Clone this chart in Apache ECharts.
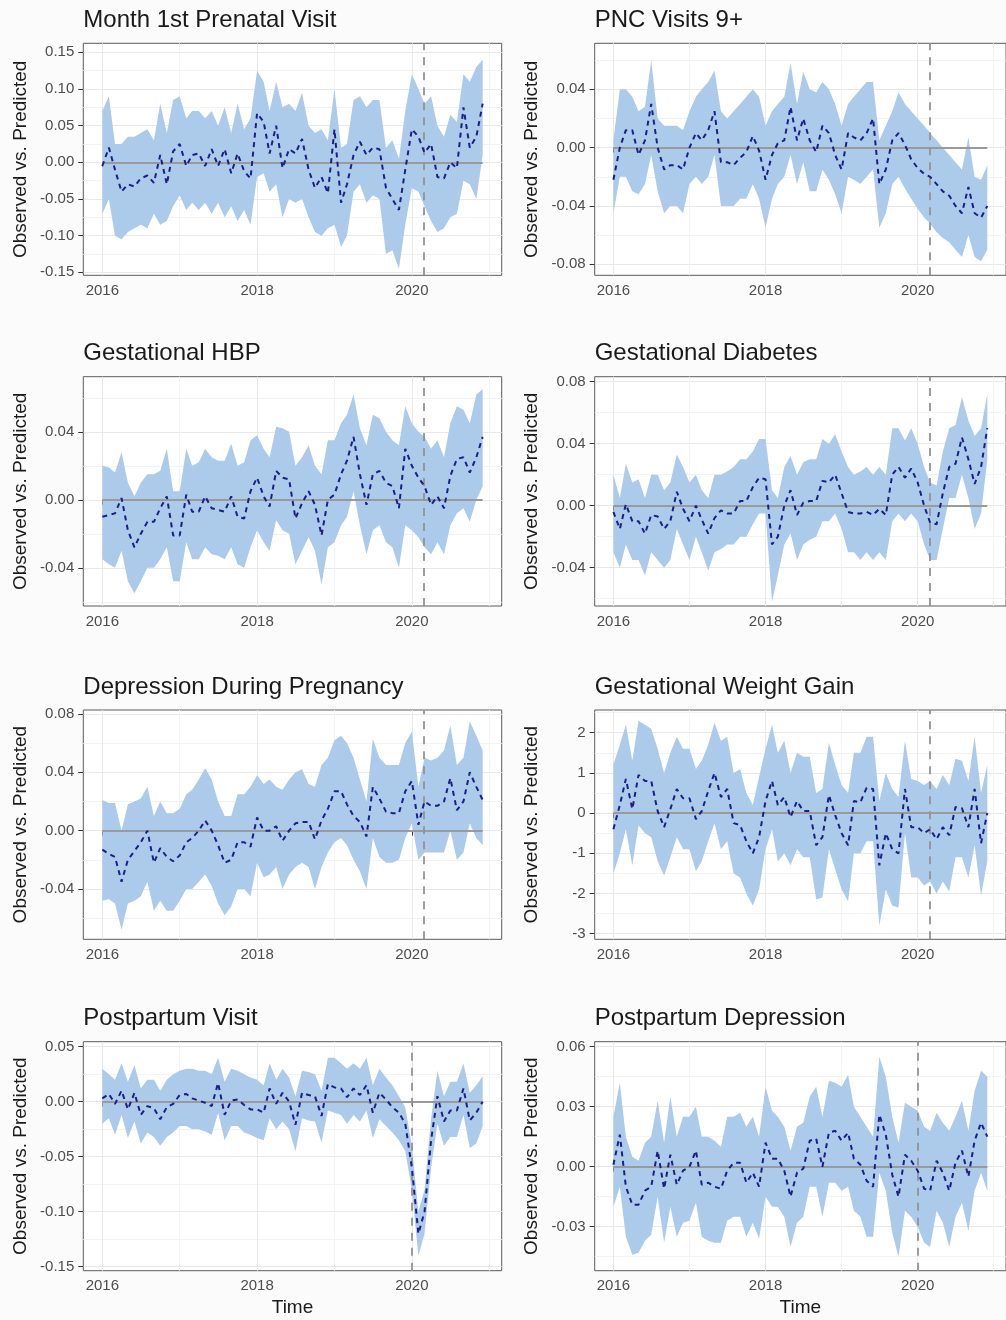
<!DOCTYPE html>
<html>
<head>
<meta charset="utf-8">
<title>Observed vs. Predicted</title>
<script src="https://cdn.jsdelivr.net/npm/echarts@6/dist/echarts.min.js"></script>
<style>
  html, body { margin: 0; padding: 0; background: #fbfbfb; }
  #chart { width: 1006px; height: 1320px; }
</style>
</head>
<body>
<div id="chart"></div>
<script>
// Monthly series, January 2016 through December 2020
const months = [];
for (let y = 2016; y <= 2020; y++) {
  for (let m = 1; m <= 12; m++) months.push(y + '-' + String(m).padStart(2, '0'));
}

// Year ticks on the time axis
const yearTicks = [2016, 2018, 2020];

// ---- Month 1st Prenatal Visit ----
const prenatalMid = [-0.005, 0.02, -0.01, -0.04, -0.03, -0.033, -0.022, -0.018, -0.028, 0.01,
  -0.03, 0.015, 0.025, -0.005, 0.01, 0.012, -0.005, 0.018, -0.005, 0.018,
  -0.015, 0.012, -0.012, -0.022, 0.067, 0.055, 0.012, 0.05, -0.008, 0.018,
  0.012, 0.032, -0.01, -0.035, -0.02, -0.042, 0.045, -0.055, -0.03, 0.01,
  0.028, 0.01, 0.02, 0.018, -0.035, -0.05, -0.065, -0.01, 0.045, 0.035,
  0.013, 0.025, -0.02, -0.022, 0.0, -0.008, 0.075, 0.02, 0.035, 0.08];
const prenatalHi = [0.07, 0.09, 0.025, 0.025, 0.035, 0.035, 0.04, 0.045, 0.03, 0.08,
  0.04, 0.085, 0.09, 0.06, 0.07, 0.07, 0.06, 0.07, 0.05, 0.075,
  0.04, 0.08, 0.045, 0.06, 0.125, 0.11, 0.07, 0.11, 0.075, 0.08,
  0.07, 0.095, 0.05, 0.04, 0.045, 0.03, 0.1, 0.02, 0.025, 0.085,
  0.09, 0.075, 0.085, 0.085, 0.02, 0.03, 0.005, 0.07, 0.12, 0.1,
  0.08, 0.09, 0.05, 0.035, 0.065, 0.055, 0.12, 0.11, 0.13, 0.14];
const prenatalLo = [-0.07, -0.05, -0.1, -0.105, -0.095, -0.09, -0.085, -0.09, -0.07, -0.085,
  -0.08, -0.06, -0.045, -0.065, -0.055, -0.065, -0.055, -0.07, -0.055, -0.075,
  -0.06, -0.08, -0.065, -0.085, -0.02, -0.015, -0.04, -0.03, -0.075, -0.05,
  -0.055, -0.05, -0.075, -0.095, -0.1, -0.09, -0.085, -0.115, -0.1, -0.04,
  -0.03, -0.055, -0.045, -0.05, -0.125, -0.12, -0.145, -0.085, -0.035, -0.04,
  -0.06, -0.08, -0.095, -0.09, -0.075, -0.07, -0.025, -0.03, -0.05, 0.01];
const prenatalTicks = [-0.15, -0.10, -0.05, 0, 0.05, 0.10, 0.15];

// ---- PNC Visits 9+ ----
const pncMid = [-0.022, 0.0, 0.012, 0.012, -0.005, 0.005, 0.03, 0.0, -0.015, -0.012,
  -0.012, -0.015, 0.0, 0.01, 0.005, 0.012, 0.025, -0.01, -0.01, -0.012,
  -0.007, -0.003, 0.008, -0.002, -0.022, -0.005, 0.003, 0.005, 0.028, 0.005,
  0.02, 0.005, -0.003, 0.015, 0.01, -0.005, -0.015, 0.01, 0.007, 0.005,
  0.01, 0.02, -0.025, -0.015, 0.005, 0.01, 0.002, -0.008, -0.014, -0.018,
  -0.02, -0.025, -0.03, -0.033, -0.04, -0.045, -0.027, -0.045, -0.048, -0.04];
const pncHi = [0.005, 0.04, 0.04, 0.035, 0.025, 0.028, 0.06, 0.02, 0.015, 0.015,
  0.015, 0.012, 0.025, 0.035, 0.04, 0.045, 0.053, 0.025, 0.02, 0.025,
  0.03, 0.035, 0.04, 0.035, 0.015, 0.025, 0.03, 0.035, 0.058, 0.03,
  0.052, 0.04, 0.038, 0.045, 0.04, 0.03, 0.015, 0.03, 0.035, 0.04,
  0.045, 0.045, 0.005, 0.015, 0.025, 0.038, 0.03, 0.025, 0.02, 0.015,
  0.01, 0.005, 0.0, -0.005, -0.01, -0.015, 0.007, -0.02, -0.022, -0.012];
const pncLo = [-0.045, -0.02, -0.02, -0.03, -0.032, -0.025, -0.005, -0.03, -0.045, -0.04,
  -0.04, -0.045, -0.025, -0.02, -0.025, -0.02, -0.005, -0.04, -0.04, -0.04,
  -0.035, -0.035, -0.025, -0.035, -0.055, -0.035, -0.025, -0.02, -0.005, -0.025,
  -0.01, -0.03, -0.03, -0.015, -0.022, -0.032, -0.045, -0.02, -0.022, -0.025,
  -0.02, -0.015, -0.055, -0.045, -0.025, -0.02, -0.028, -0.035, -0.042, -0.048,
  -0.052, -0.058, -0.062, -0.065, -0.07, -0.075, -0.06, -0.075, -0.078, -0.07];
const pncTicks = [-0.08, -0.04, 0, 0.04];

// ---- Gestational HBP ----
const hbpMid = [-0.01, -0.009, -0.008, 0.001, -0.018, -0.028, -0.02, -0.013, -0.013, -0.005,
  0.002, -0.021, -0.021, 0.003, -0.007, -0.007, 0.002, -0.005, -0.006, -0.007,
  0.002, -0.01, -0.011, 0.005, 0.013, 0.002, -0.004, 0.017, 0.013, 0.012,
  -0.011, -0.002, 0.005, -0.003, -0.021, 0.0, 0.003, 0.015, 0.023, 0.037,
  0.015, -0.003, 0.015, 0.017, 0.01, 0.008, -0.005, 0.03, 0.02, 0.013,
  0.008, -0.003, 0.002, -0.005, 0.014, 0.024, 0.025, 0.016, 0.025, 0.037];
const hbpHi = [0.02, 0.019, 0.016, 0.028, 0.01, 0.002, 0.01, 0.015, 0.015, 0.017,
  0.03, 0.005, 0.005, 0.03, 0.02, 0.022, 0.03, 0.025, 0.023, 0.023,
  0.033, 0.02, 0.022, 0.035, 0.038, 0.03, 0.025, 0.043, 0.042, 0.04,
  0.02, 0.025, 0.032, 0.02, 0.015, 0.035, 0.035, 0.045, 0.05, 0.062,
  0.042, 0.032, 0.05, 0.048, 0.04, 0.035, 0.032, 0.055, 0.045, 0.04,
  0.037, 0.03, 0.035, 0.025, 0.045, 0.055, 0.053, 0.045, 0.062, 0.065];
const hbpLo = [-0.035, -0.038, -0.04, -0.03, -0.048, -0.055, -0.048, -0.04, -0.04, -0.035,
  -0.028, -0.048, -0.048, -0.025, -0.035, -0.035, -0.028, -0.032, -0.033, -0.035,
  -0.028, -0.038, -0.04, -0.028, -0.018, -0.025, -0.03, -0.012, -0.018, -0.02,
  -0.038, -0.03, -0.022, -0.03, -0.05, -0.028, -0.025, -0.015, -0.01, 0.005,
  -0.015, -0.032, -0.018, -0.015, -0.025, -0.028, -0.04, -0.015, -0.018, -0.022,
  -0.028, -0.032, -0.025, -0.032, -0.015, -0.008, -0.005, -0.013, 0.0, 0.008];
const hbpTicks = [-0.04, 0, 0.04];

// ---- Gestational Diabetes ----
const diabMid = [-0.004, -0.015, 0.001, -0.01, -0.01, -0.018, -0.006, -0.007, -0.015, -0.01,
  0.009, -0.002, -0.01, 0.0, -0.009, -0.018, -0.008, -0.003, -0.005, -0.005,
  0.003, 0.003, 0.012, 0.018, 0.017, -0.025, -0.02, 0.0, 0.01, -0.006,
  0.002, 0.003, 0.003, 0.016, 0.015, 0.02, 0.008, -0.004, -0.005, -0.005,
  -0.004, -0.006, -0.002, -0.006, 0.02, 0.025, 0.018, 0.024, 0.015, 0.0,
  -0.011, -0.012, 0.008, 0.025, 0.027, 0.044, 0.03, 0.014, 0.025, 0.05];
const diabHi = [0.02, 0.005, 0.027, 0.015, 0.017, 0.005, 0.02, 0.02, 0.01, 0.015,
  0.033, 0.025, 0.015, 0.02, 0.01, 0.005, 0.02, 0.02, 0.022, 0.025,
  0.03, 0.03, 0.035, 0.043, 0.043, 0.01, 0.005, 0.025, 0.032, 0.02,
  0.028, 0.03, 0.03, 0.043, 0.04, 0.046, 0.035, 0.025, 0.02, 0.022,
  0.025, 0.02, 0.025, 0.02, 0.05, 0.05, 0.042, 0.05, 0.04, 0.025,
  0.015, 0.013, 0.035, 0.05, 0.052, 0.07, 0.055, 0.045, 0.05, 0.072];
const diabLo = [-0.03, -0.04, -0.025, -0.035, -0.035, -0.045, -0.03, -0.035, -0.04, -0.035,
  -0.015, -0.025, -0.035, -0.02, -0.03, -0.042, -0.03, -0.028, -0.025, -0.025,
  -0.02, -0.02, -0.012, -0.005, -0.005, -0.062, -0.045, -0.025, -0.018, -0.035,
  -0.025, -0.022, -0.02, -0.01, -0.01, -0.005, -0.015, -0.03, -0.03, -0.035,
  -0.03, -0.035, -0.03, -0.035, -0.01, -0.005, -0.01, -0.005, -0.01, -0.025,
  -0.035, -0.035, -0.015, 0.005, 0.005, 0.02, 0.005, -0.015, -0.005, 0.03];
const diabTicks = [-0.04, 0, 0.04, 0.08];

// ---- Depression During Pregnancy ----
const deprMid = [-0.013, -0.016, -0.018, -0.035, -0.02, -0.014, -0.008, 0.0, -0.022, -0.012,
  -0.018, -0.021, -0.017, -0.008, -0.005, 0.0, 0.007, 0.0, -0.01, -0.022,
  -0.02, -0.008, -0.008, -0.011, 0.009, 0.0, 0.0, 0.003, -0.007, 0.0,
  0.005, 0.006, 0.006, -0.006, 0.007, 0.015, 0.027, 0.027, 0.018, 0.01,
  0.006, -0.004, 0.03, 0.022, 0.013, 0.012, 0.012, 0.027, 0.034, 0.004,
  0.02, 0.017, 0.017, 0.02, 0.036, 0.014, 0.02, 0.04, 0.03, 0.021];
const deprHi = [0.021, 0.019, 0.019, 0.0, 0.018, 0.02, 0.022, 0.03, 0.01, 0.02,
  0.012, 0.012, 0.015, 0.025, 0.028, 0.035, 0.043, 0.035, 0.02, 0.01,
  0.01, 0.025, 0.025, 0.03, 0.038, 0.032, 0.035, 0.03, 0.028, 0.035,
  0.04, 0.042, 0.032, 0.03, 0.045, 0.05, 0.062, 0.065, 0.06, 0.05,
  0.035, 0.02, 0.063, 0.05, 0.045, 0.045, 0.045, 0.06, 0.068, 0.03,
  0.05, 0.048, 0.05, 0.055, 0.072, 0.045, 0.05, 0.075, 0.065, 0.055];
const deprLo = [-0.048, -0.047, -0.05, -0.068, -0.05, -0.048, -0.045, -0.035, -0.055, -0.048,
  -0.055, -0.055, -0.048, -0.04, -0.04, -0.035, -0.03, -0.038, -0.05, -0.058,
  -0.052, -0.04, -0.04, -0.045, -0.022, -0.032, -0.03, -0.025, -0.04, -0.03,
  -0.025, -0.022, -0.025, -0.04, -0.025, -0.015, -0.008, -0.005, -0.01, -0.02,
  -0.028, -0.04, -0.005, -0.018, -0.022, -0.022, -0.02, -0.005, 0.005, -0.02,
  -0.015, -0.015, -0.015, -0.015, 0.0, -0.02, -0.015, 0.005, -0.005, -0.01];
const deprTicks = [-0.04, 0, 0.04, 0.08];

// ---- Gestational Weight Gain ----
const gwgMid = [-0.4, 0.2, 0.85, 0.1, 0.95, 0.8, 0.8, 0.05, -0.35, 0.1,
  0.6, 0.37, 0.37, -0.15, 0.05, 0.55, 1.0, 0.4, 0.6, -0.25,
  -0.3, -0.7, -1.0, -0.6, 0.3, 0.8, 0.2, 0.4, -0.1, 0.3,
  0.05, 0.05, -0.8, -0.6, 0.45, -0.05, -0.5, -0.8, 0.3, 0.27,
  0.63, 0.6, -1.3, -0.5, -0.9, -1.0, 0.6, -0.35, -0.35, -0.5,
  -0.4, -0.65, -0.35, -0.55, 0.15, 0.12, -0.35, 0.6, -0.75, 0.0];
const gwgHi = [1.2, 1.7, 2.2, 1.3, 2.3, 2.2, 2.1, 1.6, 1.0, 1.5,
  1.9, 1.6, 1.6, 1.1, 1.3, 1.7, 2.25, 1.8, 1.9, 1.0,
  1.1, 0.5, 0.2, 0.9, 1.6, 2.2, 1.5, 1.8, 1.0, 1.5,
  1.4, 1.4, 0.5, 0.6, 1.75, 1.2, 0.7, 0.5, 1.5, 1.5,
  1.9, 1.9, 0.3, 1.0, 0.6, 0.4, 1.8, 0.85, 0.8, 0.7,
  0.8, 0.6, 0.95, 0.7, 1.35, 1.3, 0.8, 1.9, 0.5, 1.2];
const gwgLo = [-1.5, -1.0, -0.4, -1.3, -0.3, -0.5, -0.6, -1.2, -1.55, -1.1,
  -0.6, -0.9, -0.9, -1.45, -1.2, -0.7, -0.25, -0.9, -0.7, -1.5,
  -1.6, -2.0, -2.3, -1.9, -0.9, -0.4, -1.2, -1.0, -1.3, -0.9,
  -1.1, -1.1, -2.15, -2.1, -0.9, -1.4, -1.9, -2.2, -1.0, -1.0,
  -0.7, -0.7, -2.8, -1.9, -2.3, -2.35, -0.5, -1.6, -1.6, -1.8,
  -1.7, -2.0, -1.7, -1.95, -1.1, -1.1, -1.6, -0.8, -2.05, -1.2];
const gwgTicks = [-3, -2, -1, 0, 1, 2];

// ---- Postpartum Visit ----
const ppvMid = [0.003, 0.007, -0.002, 0.01, -0.007, 0.008, -0.012, -0.004, -0.006, -0.016,
  -0.005, -0.002, 0.006, 0.007, 0.003, 0.001, -0.001, -0.004, 0.017, -0.012,
  0.001, 0.002, -0.003, -0.007, -0.007, -0.01, 0.012, -0.002, 0.008, 0.0,
  -0.021, 0.008, 0.006, 0.005, -0.013, 0.016, 0.013, 0.012, 0.004, 0.012,
  0.006, 0.015, -0.01, 0.008, 0.002, -0.005, -0.01, -0.02, -0.06, -0.12,
  -0.1, -0.035, 0.005, -0.018, -0.008, -0.008, 0.012, -0.017, -0.01, 0.0];
const ppvHi = [0.03, 0.025, 0.02, 0.035, 0.018, 0.033, 0.012, 0.02, 0.02, 0.01,
  0.02, 0.025, 0.028, 0.03, 0.03, 0.028, 0.028, 0.025, 0.04, 0.018,
  0.03, 0.028, 0.025, 0.022, 0.02, 0.015, 0.035, 0.02, 0.03, 0.022,
  0.005, 0.028, 0.027, 0.025, 0.01, 0.04, 0.04, 0.035, 0.03, 0.035,
  0.03, 0.04, 0.015, 0.03, 0.022, 0.015, 0.005, -0.005, -0.04, -0.1,
  -0.08, -0.015, 0.028, 0.005, 0.018, 0.018, 0.035, 0.008, 0.015, 0.023];
const ppvLo = [-0.02, -0.015, -0.03, -0.012, -0.033, -0.018, -0.038, -0.028, -0.032, -0.04,
  -0.032, -0.028, -0.022, -0.022, -0.025, -0.025, -0.027, -0.03, -0.01, -0.035,
  -0.022, -0.022, -0.028, -0.03, -0.033, -0.035, -0.015, -0.025, -0.018, -0.025,
  -0.045, -0.015, -0.017, -0.018, -0.037, -0.008, -0.01, -0.012, -0.02, -0.012,
  -0.018, -0.008, -0.033, -0.016, -0.022, -0.028, -0.035, -0.045, -0.08, -0.14,
  -0.12, -0.06, -0.02, -0.04, -0.032, -0.032, -0.012, -0.042, -0.038, -0.022];
const ppvTicks = [-0.15, -0.10, -0.05, 0, 0.05];

// ---- Postpartum Depression ----
const ppdMid = [0.001, 0.016, -0.01, -0.019, -0.019, -0.012, -0.01, 0.008, -0.011, 0.006,
  -0.009, -0.002, 0.0, 0.008, -0.009, -0.008, -0.01, -0.011, -0.002, 0.002,
  0.002, -0.008, -0.003, -0.01, 0.012, 0.004, 0.004, -0.002, -0.015, -0.003,
  -0.001, 0.013, 0.014, 0.0, 0.017, 0.018, 0.013, 0.017, 0.004, 0.001,
  -0.007, -0.01, 0.026, 0.016, -0.004, -0.015, 0.006, 0.003, -0.002, -0.011,
  -0.012, 0.003, -0.003, -0.012, 0.002, 0.008, -0.005, 0.013, 0.022, 0.015];
const ppdHi = [0.025, 0.042, 0.015, 0.005, 0.003, 0.012, 0.015, 0.033, 0.012, 0.035,
  0.015, 0.025, 0.025, 0.03, 0.015, 0.015, 0.013, 0.01, 0.025, 0.025,
  0.027, 0.02, 0.025, 0.015, 0.04, 0.028, 0.025, 0.02, 0.008, 0.02,
  0.022, 0.035, 0.04, 0.025, 0.043, 0.042, 0.04, 0.046, 0.03, 0.025,
  0.02, 0.015, 0.055, 0.045, 0.025, 0.012, 0.032, 0.03, 0.028, 0.02,
  0.018, 0.027, 0.022, 0.018, 0.025, 0.033, 0.018, 0.038, 0.048, 0.045];
const ppdLo = [-0.02, -0.01, -0.035, -0.044, -0.043, -0.037, -0.034, -0.015, -0.038, -0.02,
  -0.035, -0.028, -0.027, -0.018, -0.035, -0.037, -0.038, -0.038, -0.027, -0.025,
  -0.025, -0.035, -0.028, -0.036, -0.015, -0.02, -0.02, -0.025, -0.04, -0.028,
  -0.025, -0.01, -0.01, -0.025, -0.008, -0.008, -0.012, -0.01, -0.022, -0.025,
  -0.035, -0.035, -0.003, -0.012, -0.033, -0.045, -0.022, -0.025, -0.03, -0.038,
  -0.04, -0.022, -0.028, -0.04, -0.025, -0.018, -0.032, -0.012, -0.003, -0.012];
const ppdTicks = [-0.03, 0, 0.03, 0.06];

// Panels in reading order (left to right, top to bottom)
const panels = [
  { title: 'Month 1st Prenatal Visit', mid: prenatalMid, hi: prenatalHi, lo: prenatalLo, ticks: prenatalTicks, range: [-0.1541, 0.1623], digits: 2, event: '2020-03' },
  { title: 'PNC Visits 9+', mid: pncMid, hi: pncHi, lo: pncLo, ticks: pncTicks, range: [-0.0876, 0.0716], digits: 2, event: '2020-03' },
  { title: 'Gestational HBP', mid: hbpMid, hi: hbpHi, lo: hbpLo, ticks: hbpTicks, range: [-0.0625, 0.0724], digits: 2, event: '2020-03' },
  { title: 'Gestational Diabetes', mid: diabMid, hi: diabHi, lo: diabLo, ticks: diabTicks, range: [-0.0647, 0.0832], digits: 2, event: '2020-03' },
  { title: 'Depression During Pregnancy', mid: deprMid, hi: deprHi, lo: deprLo, ticks: deprTicks, range: [-0.0745, 0.0827], digits: 2, event: '2020-03' },
  { title: 'Gestational Weight Gain', mid: gwgMid, hi: gwgHi, lo: gwgLo, ticks: gwgTicks, range: [-3.14, 2.565], digits: 0, event: '2020-03' },
  { title: 'Postpartum Visit', mid: ppvMid, hi: ppvHi, lo: ppvLo, ticks: ppvTicks, range: [-0.1536, 0.0545], digits: 2, event: '2020-01' },
  { title: 'Postpartum Depression', mid: ppdMid, hi: ppdHi, lo: ppdLo, ticks: ppdTicks, range: [-0.052, 0.0625], digits: 2, event: '2020-01' }
];

// Month string -> decimal year (day based)
function decYear(ym) {
  const [y, m] = ym.split('-').map(Number);
  const s = Date.UTC(y, 0, 1), e = Date.UTC(y + 1, 0, 1);
  return y + (Date.UTC(y, m - 1, 1) - s) / (e - s);
}
const xs = months.map(decYear);
const xSpan = xs[xs.length - 1] - xs[0];
const xMin = xs[0] - 0.05 * xSpan;
const xMax = xs[xs.length - 1] + 0.05 * xSpan;
const yearMinor = [2017, 2019, 2021].filter(v => v > xMin && v < xMax);

function minorOf(ticks, lo, hi) {
  const step = ticks[1] - ticks[0];
  const out = [];
  for (let i = -1; i < ticks.length; i++) {
    const v = (i < 0 ? ticks[0] - step : ticks[i]) + step / 2;
    if (v > lo && v < hi) out.push(+v.toFixed(6));
  }
  return out;
}

// Layout
const FONT = "'Liberation Sans', Arial, Helvetica, sans-serif";
const colLeft = [83.3, 594.7];
const plotWidth = 418.4;
const rowTop = [43.3, 376.7, 710, 1041.7];
const rowHeight = [232, 229.3, 229.3, 229];
const BAND = '#accaea';
const LINE = '#1a1f86';

const grid = [], xAxis = [], yAxis = [], series = [], title = [];

panels.forEach((p, k) => {
  const col = k % 2, row = Math.floor(k / 2);
  const left = colLeft[col], top = rowTop[row], height = rowHeight[row];

  grid.push({ left, top, width: plotWidth, height, show: true, backgroundColor: '#ffffff', borderColor: '#5a5a5a', borderWidth: 1 });

  title.push({
    text: p.title, left, top: top - 35, padding: 0,
    textStyle: { fontFamily: FONT, fontSize: 24, fontWeight: 'normal', color: '#1a1a1a' }
  });

  const xi = xAxis.length;
  xAxis.push({
    type: 'value', gridIndex: k, min: xMin, max: xMax, position: 'bottom',
    axisLine: { show: false },
    axisTick: { show: true, length: 5, customValues: yearTicks, lineStyle: { color: '#333333', width: 1 } },
    axisLabel: { customValues: yearTicks, formatter: v => String(v), fontFamily: FONT, fontSize: 15, color: '#4d4d4d', margin: 8 },
    splitLine: { show: true, lineStyle: { color: '#e8e8e8', width: 1 } },
    name: row === 3 ? 'Time' : '', nameLocation: 'middle', nameGap: 28,
    nameTextStyle: { fontFamily: FONT, fontSize: 19, color: '#1a1a1a' }
  });
  xAxis.push({
    type: 'value', gridIndex: k, min: xMin, max: xMax, position: 'top',
    axisLine: { show: false }, axisTick: { show: false, customValues: yearMinor },
    axisLabel: { show: false }, splitLine: { show: true, lineStyle: { color: '#f3f3f3', width: 1 } }
  });

  const yi = yAxis.length;
  yAxis.push({
    type: 'value', gridIndex: k, min: p.range[0], max: p.range[1], position: 'left',
    axisLine: { show: false },
    axisTick: { show: true, length: 5, customValues: p.ticks, lineStyle: { color: '#333333', width: 1 } },
    axisLabel: { customValues: p.ticks, formatter: v => v.toFixed(p.digits), fontFamily: FONT, fontSize: 15, color: '#4d4d4d', margin: 9 },
    splitLine: { show: true, lineStyle: { color: '#e8e8e8', width: 1 } },
    name: 'Observed vs. Predicted', nameLocation: 'middle', nameRotate: 90, nameGap: 53,
    nameTextStyle: { fontFamily: FONT, fontSize: 19, color: '#1a1a1a' }
  });
  yAxis.push({
    type: 'value', gridIndex: k, min: p.range[0], max: p.range[1], position: 'right',
    axisLine: { show: false }, axisTick: { show: false, customValues: minorOf(p.ticks, p.range[0], p.range[1]) },
    axisLabel: { show: false }, splitLine: { show: true, lineStyle: { color: '#f3f3f3', width: 1 } }
  });

  // Interval band: one polygon along the upper bound and back along the lower bound
  series.push({
    type: 'custom', name: p.title + ' interval', xAxisIndex: xi, yAxisIndex: yi,
    data: xs.map((x, i) => [x, p.lo[i], p.hi[i]]),
    encode: { x: 0, y: [1, 2] },
    silent: true, z: 2, clip: true,
    renderItem: (params, api) => {
      if (params.dataIndex !== 0) return null;
      const upper = xs.map((x, i) => api.coord([x, p.hi[i]]));
      const lower = xs.map((x, i) => api.coord([x, p.lo[i]])).reverse();
      return {
        type: 'polygon',
        shape: { points: upper.concat(lower) },
        style: { fill: BAND, stroke: null }
      };
    }
  });

  // Observed vs. predicted difference, with zero reference and event marker
  series.push({
    type: 'line', name: p.title, xAxisIndex: xi, yAxisIndex: yi,
    data: xs.map((x, i) => [x, p.mid[i]]),
    symbol: 'none', silent: true, z: 5,
    lineStyle: { color: LINE, width: 2, type: [5, 4.5] },
    markLine: {
      silent: true, symbol: ['none', 'none'], label: { show: false }, z: 3, animation: false,
      data: [
        [{ coord: [xs[0], 0], lineStyle: { color: '#9a9a9a', width: 2, type: 'solid' } },
         { coord: [xs[xs.length - 1], 0] }],
        { xAxis: decYear(p.event), lineStyle: { color: '#939393', width: 1.8, type: [8, 7] } }
      ]
    }
  });
});

const chart = echarts.init(document.getElementById('chart'), null, { renderer: 'canvas' });
chart.setOption({
  backgroundColor: '#fbfbfb',
  animation: false,
  textStyle: { fontFamily: FONT },
  title, grid, xAxis, yAxis, series
});
</script>
</body>
</html>
